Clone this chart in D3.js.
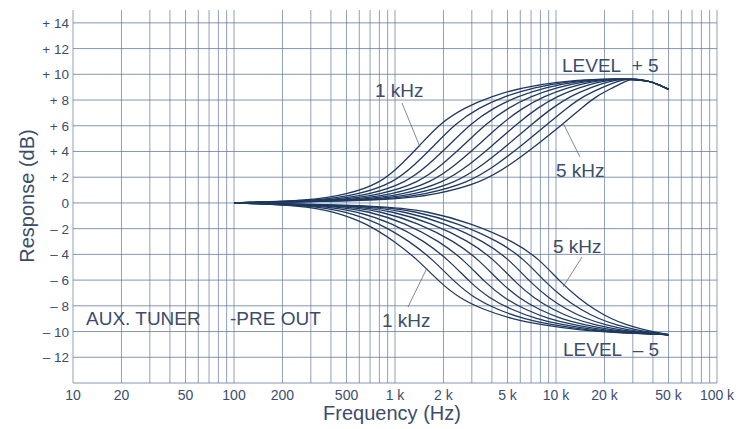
<!DOCTYPE html>
<html>
<head>
<style>
  body { margin: 0; background: #fff; }
  svg text { font-family: "Liberation Sans", Arial, sans-serif; fill: #3b4d6b; }
</style>
<script src="https://d3js.org/d3.v7.min.js"></script>
</head>
<body>
<script>
// axis ticks
const freqTicks = [10, 20, 50, 100, 200, 500, 1000, 2000, 5000, 10000, 20000, 50000, 100000];
const freqLabels = ["10", "20", "50", "100", "200", "500", "1 k", "2 k", "5 k", "10 k", "20 k", "50 k", "100 k"];
const dbTicks = [14, 12, 10, 8, 6, 4, 2, 0, -2, -4, -6, -8, -10, -12];
const dbLabels = ["+ 14", "+ 12", "+ 10", "+ 8", "+ 6", "+ 4", "+ 2", "0", "\u2013 2", "\u2013 4", "\u2013 6", "\u2013 8", "\u2013 10", "\u2013 12"];

// boost curves (LEVEL +5), 1 kHz ... 5 kHz: frequency (Hz) where each curve reaches the level
const boostLevels = [0, 0.2, 0.65, 1.55, 3, 4.4, 6.2, 7.4, 8.3, 9.0, 9.4, 9.65];
const boostCurves = [
  [100, 302, 501, 818, 1096, 1409, 1905, 2692, 3981, 6310, 10000, 17783],
  [100, 351, 587, 979, 1334, 1734, 2377, 3319, 4797, 7413, 11298, 18967],
  [100, 407, 689, 1169, 1622, 2133, 2965, 4102, 5794, 8710, 12735, 20184],
  [100, 473, 805, 1400, 1972, 2624, 3698, 5058, 6982, 10233, 14388, 21528],
  [100, 550, 944, 1671, 2399, 3228, 4613, 6237, 8414, 12023, 16218, 22909],
  [100, 638, 1107, 2000, 2917, 3981, 5768, 7709, 10139, 14125, 18323, 24434],
  [100, 741, 1297, 2393, 3548, 4898, 7194, 9506, 12246, 16596, 20654, 26002],
  [100, 861, 1517, 2858, 4315, 6026, 8974, 11722, 14757, 19498, 23335, 27733],
  [100, 1000, 1778, 3420, 5248, 7413, 11194, 14454, 17783, 22909, 26303, 29512]
];
const boostTail = [[33900, 9.6], [39800, 9.4], [44700, 9.1], [50000, 8.85]];

// cut curves (LEVEL -5)
const cutLevels = [0, -0.2, -0.65, -1.55, -3, -4.4, -6.2, -7.4, -8.3, -9.0, -9.5, -9.9, -10.1];
const cutCurves = [
  [100, 263, 417, 661, 1000, 1380, 1905, 2512, 3548, 5248, 8318, 14125, 25119],
  [100, 306, 493, 796, 1237, 1718, 2366, 3108, 4325, 6273, 9661, 15888, 26915],
  [100, 357, 582, 961, 1531, 2138, 2934, 3846, 5278, 7499, 11220, 17886, 28840],
  [100, 416, 688, 1159, 1894, 2661, 3639, 4760, 6442, 8966, 13032, 20137, 30903],
  [100, 484, 813, 1396, 2344, 3311, 4519, 5888, 7852, 10715, 15136, 22646, 33113],
  [100, 564, 960, 1683, 2900, 4121, 5610, 7286, 9572, 12810, 17579, 25468, 35481],
  [100, 658, 1135, 2032, 3589, 5129, 6960, 9016, 11679, 15311, 20417, 28675, 38019],
  [100, 766, 1341, 2449, 4441, 6383, 8630, 11156, 14256, 18302, 23714, 32285, 40738],
  [100, 891, 1585, 2951, 5495, 7943, 10715, 13804, 17378, 21878, 27542, 36308, 43652]
];
const cutTail = [[50000, -10.25]];

const w = 751, h = 429;
const svg = d3.select("body").append("svg").attr("width", w).attr("height", h);

const x = d3.scaleLog().domain([10, 100000]).range([73, 717]);
const y = d3.scaleLinear().domain([-14, 15]).range([383, 10]);

// log grid
const gridF = [];
for (let d = 10; d < 100000; d *= 10) for (let m = 1; m < 10; m++) gridF.push(d * m);
gridF.push(100000);
const grid = svg.append("g").attr("stroke", "#7489a8").attr("stroke-width", 0.8);
grid.selectAll(".v").data(gridF).enter().append("line")
  .attr("x1", d => x(d)).attr("x2", d => x(d))
  .attr("y1", y(15)).attr("y2", y(-14));
grid.selectAll(".h").data(d3.range(-14, 16, 2)).enter().append("line")
  .attr("x1", x(10)).attr("x2", x(100000))
  .attr("y1", d => y(d)).attr("y2", d => y(d))
  .attr("stroke", "#667b9b");

// axes labels
svg.append("g").selectAll("text").data(dbTicks).enter().append("text")
  .attr("x", 69).attr("y", d => y(d) + 5)
  .attr("text-anchor", "end").style("font-size", "13.5px")
  .text((d, i) => dbLabels[i]);
svg.append("g").selectAll("text").data(freqTicks).enter().append("text")
  .attr("x", d => x(d)).attr("y", 400)
  .attr("text-anchor", "middle").style("font-size", "14px")
  .text((d, i) => freqLabels[i]);
svg.append("text").attr("x", 392).attr("y", 420).attr("text-anchor", "middle")
  .style("font-size", "20px").text("Frequency (Hz)");
svg.append("text").attr("transform", "translate(34,196) rotate(-90)").attr("text-anchor", "middle")
  .style("font-size", "20px").text("Response (dB)");

// curves
const line = d3.line().x(d => x(d[0])).y(d => y(d[1])).curve(d3.curveBasis);
const series = [];
boostCurves.forEach(c => series.push(c.map((f, i) => [f, boostLevels[i]]).concat(boostTail)));
cutCurves.forEach(c => series.push(c.map((f, i) => [f, cutLevels[i]]).concat(cutTail)));
svg.append("g").selectAll("path").data(series).enter().append("path")
  .attr("d", line).attr("fill", "none")
  .attr("stroke", "#1e3960").attr("stroke-width", 1.3);

// annotations
const notes = svg.append("g");
const pointers = [[402, 103, 420, 147], [580, 157, 563, 123], [582, 257, 563, 287], [408, 307, 427, 268]];
notes.selectAll("line").data(pointers).enter().append("line")
  .attr("x1", d => d[0]).attr("y1", d => d[1]).attr("x2", d => d[2]).attr("y2", d => d[3])
  .attr("stroke", "#5a6c88").attr("stroke-width", 0.8);
const labels = [
  ["1 kHz", 375, 97, 19], ["5 kHz", 556, 177, 19], ["5 kHz", 553, 253, 19], ["1 kHz", 382, 327, 19],
  ["LEVEL\u00a0 + 5", 562, 72, 19], ["LEVEL\u00a0 \u2013 5", 563, 356, 19],
  ["AUX. TUNER", 86, 325, 19], ["-PRE OUT", 230, 325, 19]
];
notes.selectAll("text").data(labels).enter().append("text")
  .attr("x", d => d[1]).attr("y", d => d[2]).style("font-size", d => d[3] + "px")
  .text(d => d[0]);
</script>
</body>
</html>
